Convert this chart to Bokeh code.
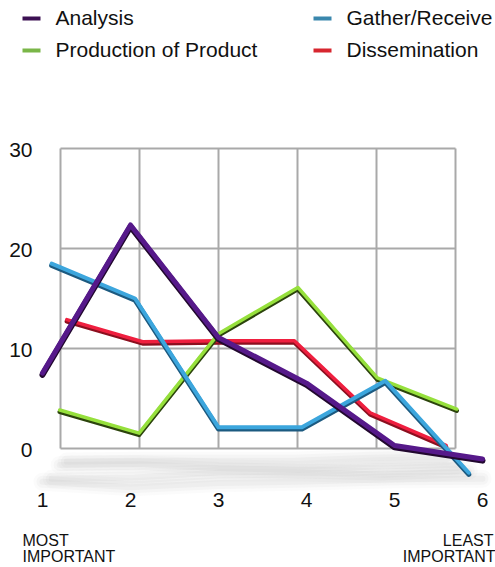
import numpy as np
from bokeh.plotting import figure
from bokeh.models import Range1d
from bokeh.core.properties import value
from bokeh.embed import file_html
from bokeh.resources import INLINE

# ---- data -------------------------------------------------------------
categories = ["1", "2", "3", "4", "5", "6"]
y_ticks = [0, 10, 20, 30]
series_names = ["Analysis", "Gather/Receive", "Production of Product", "Dissemination"]

analysis = [8.3, 21.6, 11.5, 7.4, 1.8, 0.6]
gather_receive = [18.3, 15.0, 2.8, 2.8, 7.2, -1.5]
production = [3.9, 1.6, 11.5, 16.1, 7.1, 4.0]
dissemination = [12.8, 10.5, 10.6, 10.6, 3.1, -0.3]

# ---- styling ----------------------------------------------------------
FONT = value("Liberation Sans")
W, H = 495, 567

# wall geometry: category index i sits at 60 + (i-1)*79 px, value v at 448 - 10*v px
def fx(px):
    return 1 + (px - 60) / 79.0

def fy(py):
    return (448 - py) / 10.0

# depth (perspective) factor of each series around the wall centre
CX, CY = 3.0, 15.0
styles = [
    # values, depth, line colour, edge colour, legend colour, width
    (analysis, 1.114, "#56198a", "#22082f", "#3c1053", 6.0),
    (gather_receive, 1.056, "#3ca6dd", "#1c5a80", "#3a87ad", 5.0),
    (production, 1.005, "#96e03c", "#2c440c", "#7ab648", 4.5),
    (dissemination, 0.96, "#ef1f3f", "#8c0f1f", "#d7262f", 4.5),
]

def project(vals, depth):
    idx = np.arange(1, len(vals) + 1, dtype=float)
    xs = CX + depth * (idx - CX)
    ys = CY + depth * (np.asarray(vals, dtype=float) - CY)
    return xs, ys

p = figure(width=W, height=H, output_backend="svg", toolbar_location=None,
           x_range=Range1d(fx(0), fx(W)), y_range=Range1d(fy(H), fy(0)),
           x_axis_location=None, y_axis_location=None)
p.min_border = 0
p.outline_line_color = None
p.xgrid.visible = False
p.ygrid.visible = False
p.background_fill_color = "white"
p.border_fill_color = "white"

# ---- floor shadows (soft, stacked translucent strokes) ---------------
floor_levels = [-3.0, -2.3, -1.5, -0.8]
for (vals, depth, *_), fl in zip(styles, floor_levels):
    xs, _ = project(vals, depth)
    ys = fl - 0.04 * np.asarray(vals, dtype=float)
    for w, a in [(18, 0.035), (12, 0.05), (6, 0.06)]:
        p.line(xs, ys, line_width=w, line_color="#808080",
               line_alpha=a, line_cap="round", line_join="round")

# ---- back wall grid ---------------------------------------------------
n = len(categories)
grid_xs = [[i + 1, i + 1] for i in range(n)] + [[1, n] for _ in y_ticks]
grid_ys = [[y_ticks[0], y_ticks[-1]] for _ in range(n)] + [[t, t] for t in y_ticks]
p.multi_line(grid_xs, grid_ys, line_color="#a9a9a9", line_width=2)

# ---- series (back to front) ------------------------------------------
for vals, depth, col, edge, _, lw in reversed(styles):
    xs, ys = project(vals, depth)
    p.line(xs, ys - 0.17, line_color=edge, line_width=lw, line_join="round", line_cap="round")
    p.line(xs, ys, line_color=col, line_width=lw - 1.0, line_join="round", line_cap="round")

# ---- axis labels ------------------------------------------------------
p.text(x=[fx(32)] * len(y_ticks), y=[t - 0.1 for t in y_ticks],
       text=[str(t) for t in y_ticks], text_font=FONT, text_font_size="21px",
       text_align="right", text_baseline="middle", text_color="#111111")

front_x, _ = project(analysis, styles[0][1])
p.text(x=list(front_x), y=[fy(499)] * n, text=categories, text_font=FONT,
       text_font_size="21px", text_align="center", text_baseline="middle",
       text_color="#111111")

p.text(x=[fx(22), fx(22)], y=[fy(540), fy(556)], text=["MOST", "IMPORTANT"],
       text_font=FONT, text_font_size="16px", text_align="left",
       text_baseline="middle", text_color="#111111")
p.text(x=[fx(493), fx(495)], y=[fy(540), fy(556)], text=["LEAST", "IMPORTANT"],
       text_font=FONT, text_font_size="16px", text_align="right",
       text_baseline="middle", text_color="#111111")

# ---- legend -----------------------------------------------------------
legend_pos = [(22, 18), (313, 18), (22, 50), (313, 50)]
for k, (lx, ly) in enumerate(legend_pos):
    lcol = styles[k][4]
    p.segment(x0=[fx(lx)], y0=[fy(ly)], x1=[fx(lx + 18)], y1=[fy(ly)],
              line_color=lcol, line_width=4)
    p.text(x=[fx(lx + 33)], y=[fy(ly - 1)], text=[series_names[k]], text_font=FONT,
           text_font_size="21px", text_align="left", text_baseline="middle",
           text_color="#111111")

open("out.html", "w").write(file_html(p, INLINE))
